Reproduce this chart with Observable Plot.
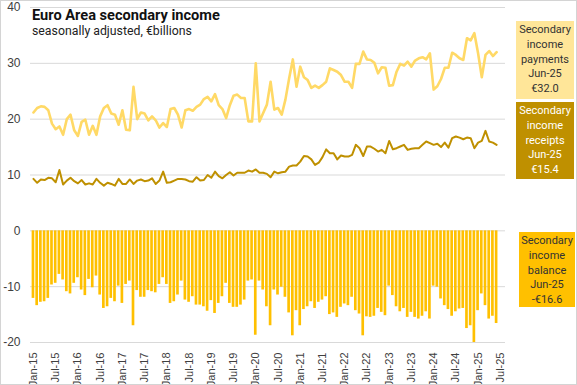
<!DOCTYPE html>
<html>
<head>
<meta charset="utf-8">
<script src="https://cdn.jsdelivr.net/npm/d3@7"></script>
<script src="https://cdn.jsdelivr.net/npm/@observablehq/plot@0.6"></script>
<style>
  body { margin: 0; background: #fff; }
  #wrap { position: relative; width: 577px; height: 385px; overflow: hidden; background: #fff; }
  #frame { position: absolute; left: 0; top: 0; width: 577px; height: 385px; box-sizing: border-box; border: 1px solid #d4d4d4; pointer-events: none; }
  #title { position: absolute; left: 32px; top: 6px; font-family: Roboto, "Noto Sans", sans-serif; font-weight: 700; font-size: 14.6px; color: #111; white-space: nowrap; }
  #subtitle { position: absolute; left: 32px; top: 24px; font-family: Roboto, "Noto Sans", sans-serif; font-size: 12.3px; color: #222; white-space: nowrap; }
  .box { position: absolute; font-family: Roboto, "Noto Sans", sans-serif; font-size: 11px; line-height: 14.8px; text-align: center; box-sizing: border-box; padding-top: 2px; }
</style>
</head>
<body>
<div id="wrap">
  <div id="chart"></div>
  <div id="title">Euro Area secondary income</div>
  <div id="subtitle">seasonally adjusted, €billions</div>
  <div class="box" id="b1" style="left:516px; top:21px; width:58px; height:78px; background:#FFE699; color:#333;">Secondary<br>income<br>payments<br>Jun-25<br>€32.0</div>
  <div class="box" id="b2" style="left:516px; top:102px; width:58px; height:77px; background:#BF9000; color:#fff;">Secondary<br>income<br>receipts<br>Jun-25<br>€15.4</div>
  <div class="box" id="b3" style="left:519px; top:232px; width:56px; height:75px; background:#FFC000; color:#333;">Secondary<br>income<br>balance<br>Jun-25<br>-€16.6</div>
  <div id="frame"></div>
</div>
<script>
const payments = [
21.2,22.0,22.3,22.2,21.6,19.2,18.2,18.7,17.2,20.0,
20.8,18.0,17.0,19.5,19.9,17.2,18.8,17.2,20.5,22.0,
22.5,21.0,20.8,19.0,21.6,18.1,18.0,25.8,20.0,21.2,
21.0,19.8,20.5,19.8,18.5,19.3,18.6,21.8,22.0,20.8,
18.5,21.6,21.8,21.5,22.2,22.6,23.6,24.0,23.2,24.5,
22.5,21.8,20.2,22.5,24.2,24.4,23.8,23.8,19.6,19.6,
30.0,19.6,21.1,22.6,26.7,21.7,22.0,20.8,23.5,27.3,
30.7,25.8,29.4,27.5,27.0,25.6,26.0,25.6,26.1,26.7,
29.1,28.8,28.5,27.9,26.7,26.7,25.6,29.9,29.9,32.1,
30.7,30.6,30.1,28.2,29.3,29.2,26.0,26.1,28.5,29.9,
29.6,30.3,29.4,30.5,30.9,31.1,30.7,31.8,25.3,25.9,
27.2,29.2,29.2,31.9,31.5,30.9,30.6,34.5,34.1,35.4,
31.8,27.5,31.5,32.2,31.3,32.0];

const receipts = [
9.3,8.6,9.2,9.1,9.5,9.4,8.7,10.9,8.3,9.0,
9.5,8.9,8.5,9.1,8.3,8.5,8.3,9.3,8.6,8.1,
8.6,8.4,8.1,9.3,8.4,8.4,9.2,8.4,9.0,9.2,
8.9,9.0,9.4,8.4,9.0,10.6,8.6,8.7,9.0,9.3,
9.3,9.2,8.9,8.8,9.6,9.0,9.1,10.0,9.5,10.6,
9.8,9.4,10.0,10.5,9.9,10.4,10.4,10.4,10.8,10.6,
11.0,10.4,10.4,10.2,9.6,10.6,10.3,10.5,10.6,11.5,
11.7,11.7,12.4,13.4,13.3,12.8,11.8,12.2,13.2,14.6,
13.9,13.9,12.8,13.5,13.3,13.3,13.6,15.4,14.8,13.4,
15.1,15.1,14.7,14.2,14.5,13.9,16.1,14.6,14.8,15.1,
15.4,14.5,14.7,14.8,14.8,15.4,16.0,15.7,15.4,15.6,
15.0,15.8,14.9,16.6,16.9,16.7,16.4,16.7,16.6,14.8,
15.8,16.1,17.9,16.0,15.8,15.4];

const balance = [
-12.1,-13.4,-12.8,-12.7,-12.1,-9.7,-9.4,-7.8,-8.8,-10.9,
-11.3,-9.4,-8.4,-10.6,-11.6,-8.7,-10.2,-8.1,-11.5,-13.9,
-13.6,-12.1,-12.7,-9.9,-13.0,-9.6,-9.0,-17.0,-10.7,-11.9,
-11.9,-10.7,-10.9,-11.1,-9.6,-8.4,-9.6,-13.0,-12.7,-11.5,
-9.0,-12.4,-12.8,-11.8,-13.3,-13.3,-13.6,-14.4,-12.5,-14.8,
-13.0,-11.8,-9.4,-13.0,-13.7,-13.7,-13.3,-12.4,-9.0,-8.8,
-18.7,-9.0,-10.6,-13.6,-17.0,-10.6,-11.5,-10.1,-11.9,-14.7,
-18.8,-14.3,-17.0,-14.1,-13.6,-12.7,-13.9,-12.8,-12.4,-11.8,
-15.0,-14.7,-15.5,-13.7,-13.1,-13.4,-11.9,-14.3,-14.9,-18.8,
-15.4,-15.5,-15.3,-13.9,-14.6,-15.2,-9.9,-11.6,-13.6,-14.5,
-13.9,-15.5,-14.6,-15.5,-15.8,-15.3,-14.5,-15.8,-9.9,-10.1,
-12.2,-13.4,-14.1,-15.3,-14.5,-14.0,-13.9,-17.5,-17.0,-20.0,
-14.3,-11.3,-13.4,-15.8,-15.3,-16.6];

const tickLabels = ["Jan-15","Jul-15","Jan-16","Jul-16","Jan-17","Jul-17","Jan-18","Jul-18",
  "Jan-19","Jul-19","Jan-20","Jul-20","Jan-21","Jul-21","Jan-22","Jul-22",
  "Jan-23","Jul-23","Jan-24","Jul-24","Jan-25","Jul-25"];
const yTicks = [-20, -10, 0, 10, 20, 30, 40];

const idx = d3.range(payments.length);
const tickIdx = tickLabels.map((_, k) => k * 6);

const chart = Plot.plot({
  width: 577,
  height: 385,
  marginLeft: 30,
  marginRight: 72,
  marginTop: 7,
  marginBottom: 43,
  style: { fontFamily: "'Liberation Sans', Arial, sans-serif", fontSize: "11px", color: "#404040", background: "transparent" },
  x: { type: "linear", domain: [-0.8, 127.4] },
  y: { domain: [-20, 40] },
  marks: [
    Plot.ruleY(yTicks, { stroke: "#d9d9d9", strokeWidth: 1 }),
    Plot.rectY(idx, { x1: i => i - 0.36, x2: i => i + 0.36, y1: 0, y2: i => balance[i], fill: "#FFC000" }),
    Plot.line(idx, { x: i => i, y: i => payments[i], stroke: "#FFD966", strokeWidth: 2.6 }),
    Plot.line(idx, { x: i => i, y: i => receipts[i], stroke: "#BF9000", strokeWidth: 2 }),
    Plot.axisY({ ticks: yTicks, tickSize: 0, tickPadding: 10, fontSize: 12, tickFormat: d => d < 0 ? "-" + (-d) : String(d) }),
    Plot.axisX({ ticks: tickIdx, tickSize: 0, tickPadding: 10, tickRotate: -90, fontSize: 11, tickFormat: i => tickLabels[i / 6] })
  ]
});
document.getElementById("chart").appendChild(chart);
</script>
</body>
</html>
